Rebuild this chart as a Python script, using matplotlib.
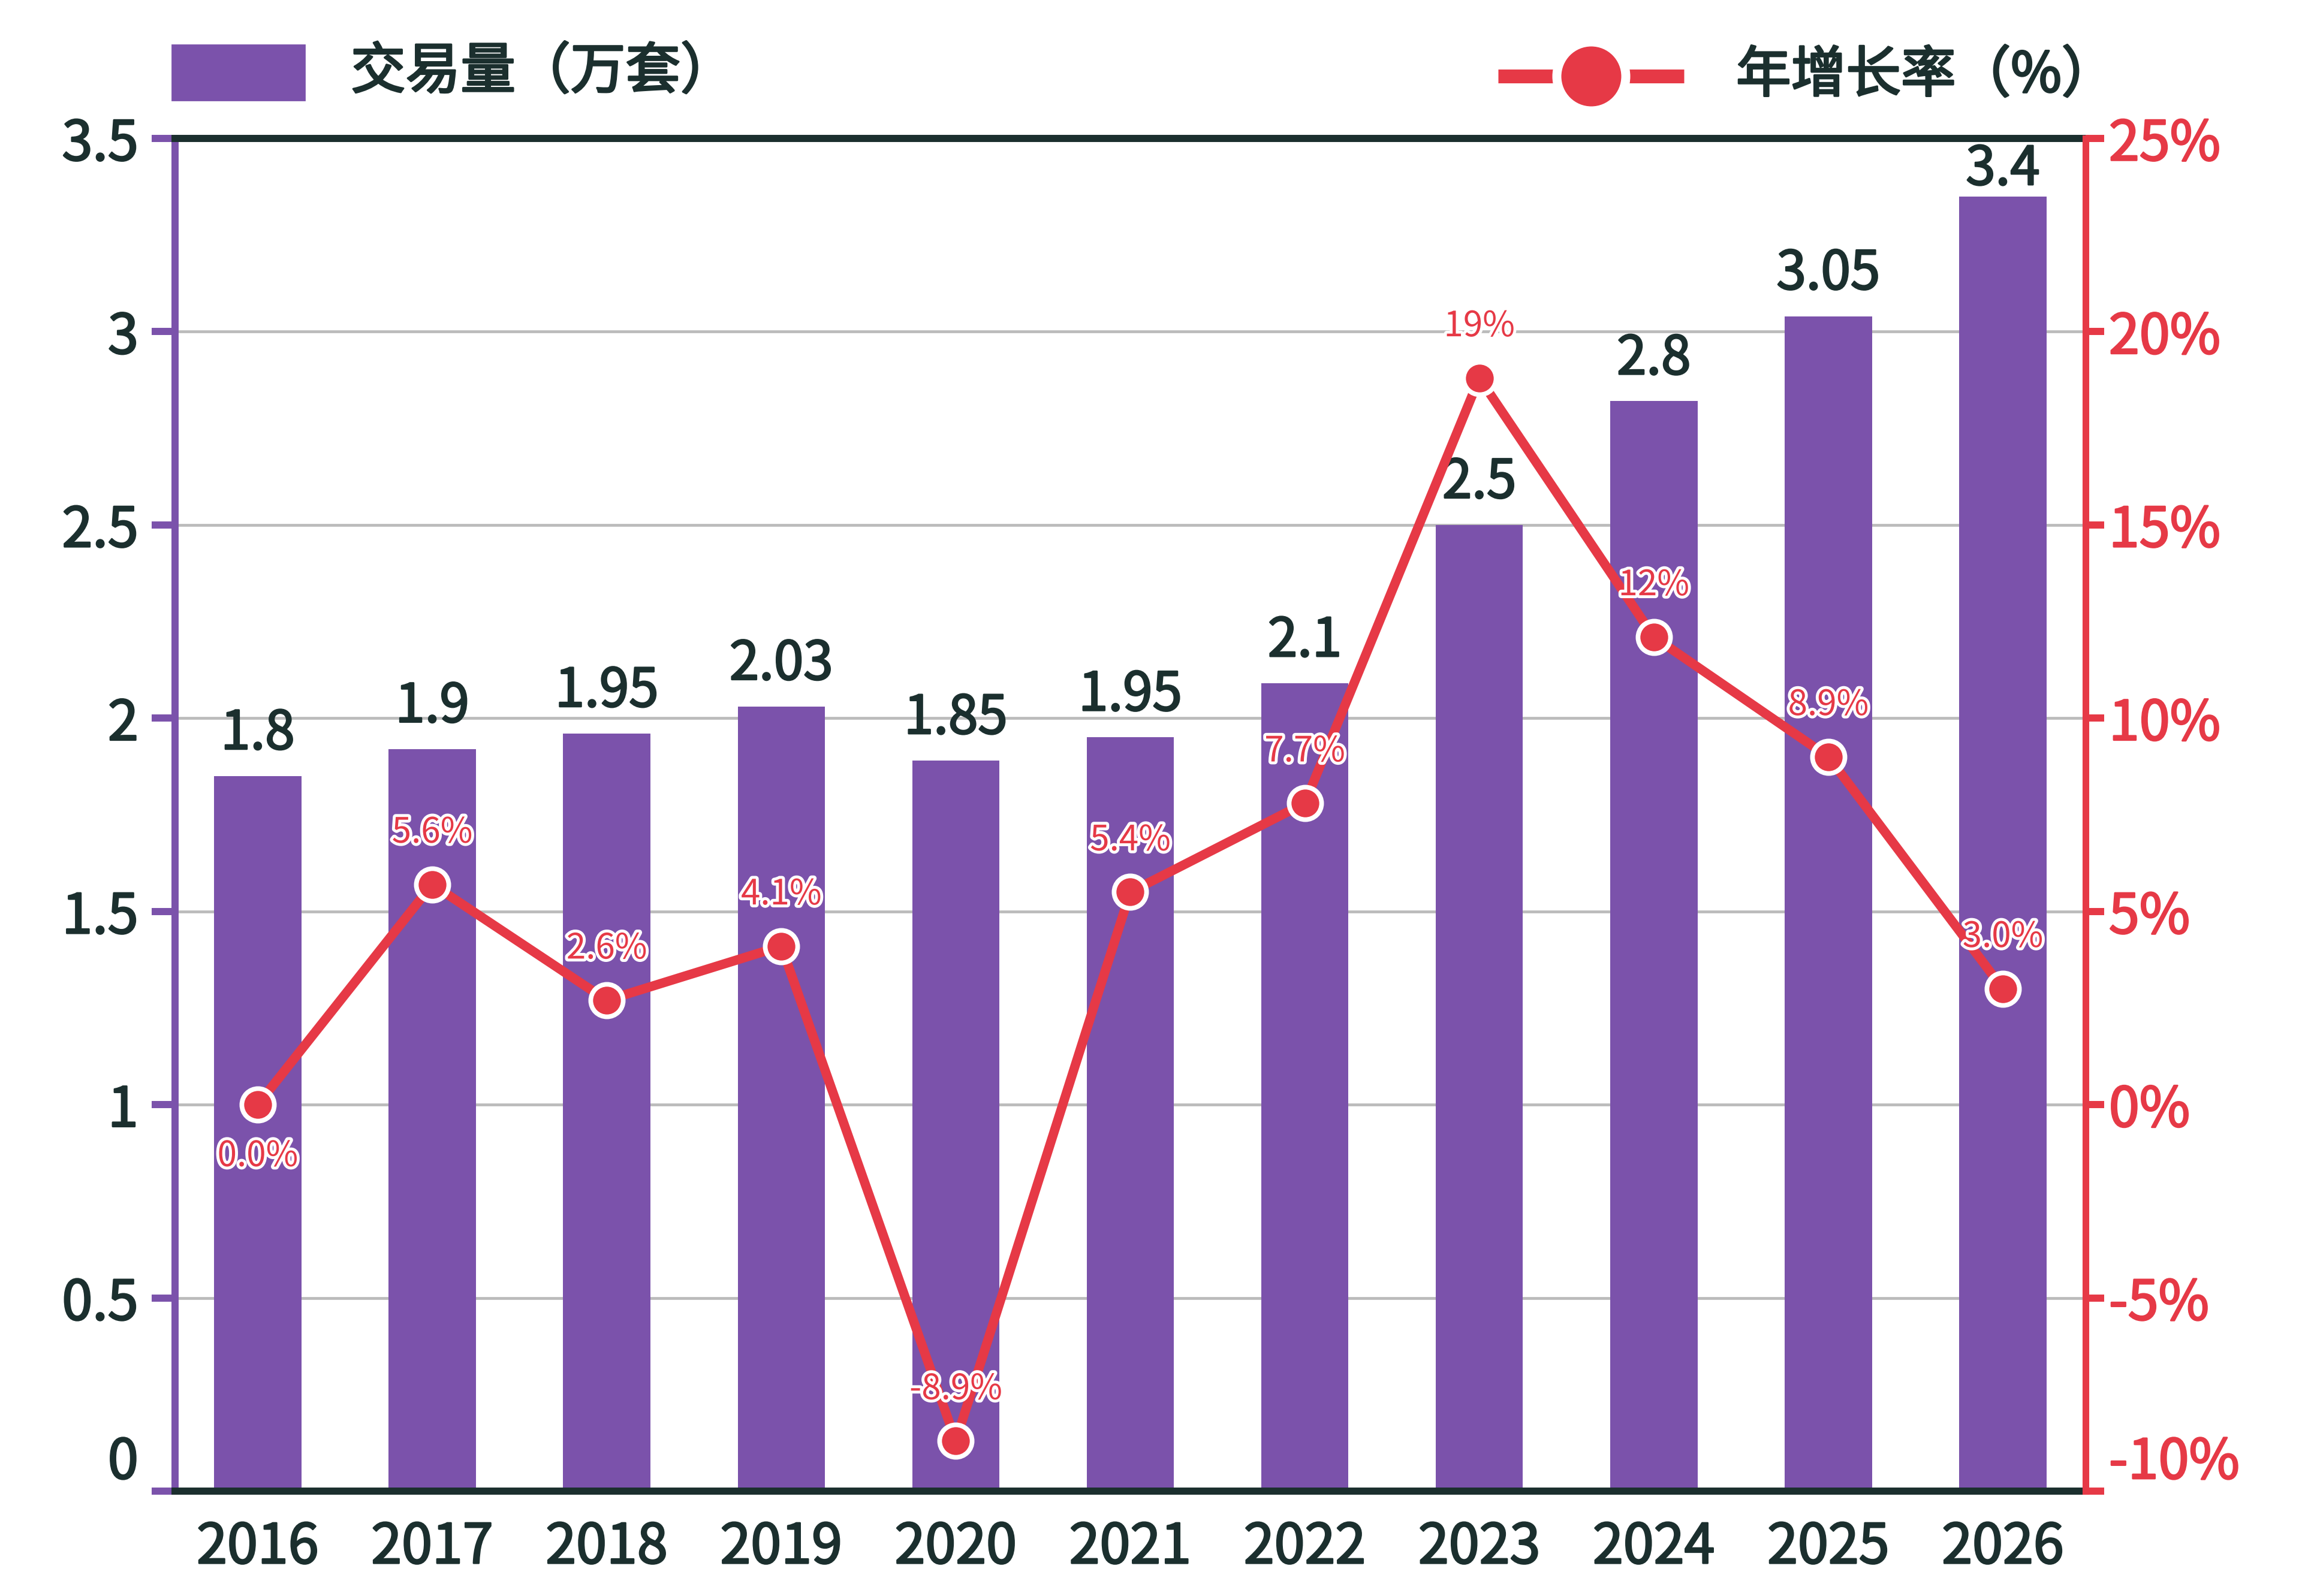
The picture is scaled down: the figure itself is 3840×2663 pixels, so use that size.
import matplotlib
matplotlib.use("Agg")
import matplotlib.pyplot as plt
import matplotlib.patheffects as pe
from matplotlib.patches import Rectangle
from matplotlib.lines import Line2D
import numpy as np

plt.rcParams['font.family'] = ['Noto Sans CJK SC', 'DejaVu Sans']

# ---- data ----
years = ["2016", "2017", "2018", "2019", "2020", "2021", "2022", "2023", "2024", "2025", "2026"]
volume = [1.85, 1.92, 1.96, 2.03, 1.89, 1.95, 2.09, 2.50, 2.82, 3.04, 3.35]
volume_labels = ["1.8", "1.9", "1.95", "2.03", "1.85", "1.95", "2.1", "2.5", "2.8", "3.05", "3.4"]
growth = [0.0, 5.7, 2.7, 4.1, -8.7, 5.5, 7.8, 18.8, 12.1, 9.0, 3.0]
growth_labels = ["0.0%", "5.6%", "2.6%", "4.1%", "-8.9%", "5.4%", "7.7%", "19%", "12%", "8.9%", "3.0%"]
left_ticks = [0, 0.5, 1, 1.5, 2, 2.5, 3, 3.5]
left_tick_labels = ["0", "0.5", "1", "1.5", "2", "2.5", "3", "3.5"]
right_ticks = [-10, -5, 0, 5, 10, 15, 20, 25]
right_tick_labels = ["-10%", "-5%", "0%", "5%", "10%", "15%", "20%", "25%"]
legend_bar = "交易量（万套）"
legend_line = "年增长率（%）"

PURPLE = "#7B52AB"
RED = "#E63946"
DARK = "#1B2F2E"
GRID = "#BBBBBB"


def heavy(color, w=1.0):
    return [pe.withStroke(linewidth=w, foreground=color)]


DPI = 200
fig = plt.figure(figsize=(3840 / DPI, 2663 / DPI), dpi=DPI)
ax = fig.add_axes([292 / 3840, 0.0657, (3479 - 292) / 3840, 0.9133 - 0.0657])

x = np.arange(len(years))
ax.bar(x, volume, width=0.5, color=PURPLE, zorder=2)
ax.set_xlim(-0.474, len(years) - 1 + 0.474)
ax.set_ylim(0, 3.5)
ax.set_yticks(left_ticks)
ax.set_yticklabels(left_tick_labels)
ax.set_xticks(x)
ax.set_xticklabels(years)
ax.set_axisbelow(True)
ax.yaxis.grid(True, color=GRID, linewidth=1.7, zorder=0)
ax.tick_params(axis='x', length=0, pad=17, labelsize=33, labelcolor=DARK)
ax.tick_params(axis='y', length=14, width=4.3, color=PURPLE, pad=8,
               labelsize=33, labelcolor=DARK)
for s in ("top", "bottom"):
    ax.spines[s].set_color(DARK)
    ax.spines[s].set_linewidth(4.3)
ax.spines["left"].set_color(PURPLE)
ax.spines["left"].set_linewidth(4.3)
ax.spines["right"].set_visible(False)
ax.get_yticklabels()[0].set_va('bottom')
for lab in ax.get_xticklabels() + ax.get_yticklabels():
    lab.set_path_effects(heavy(DARK))

# bar value labels
off = 45 / 643.0
top_room = 77 / 643.0
for xi, v, lab in zip(x, volume, volume_labels):
    yb = min(v + off, 3.5 - top_room)
    ax.text(xi, yb, lab, ha='center', va='baseline', fontsize=32, color=DARK,
            zorder=3, path_effects=heavy(DARK))

# growth line on twin axis
ax2 = ax.twinx()
ax2.set_ylim(-10, 25)
ax2.plot(x, growth, color=RED, linewidth=5.6, marker='o', markersize=19.5,
         markerfacecolor=RED, markeredgecolor='white', markeredgewidth=2.8,
         zorder=4)
ax2.set_yticks(right_ticks)
ax2.set_yticklabels(right_tick_labels)
ax2.tick_params(axis='y', length=11, width=4.3, color=RED, pad=3,
                labelsize=33, labelcolor=RED)
for s in ("top", "bottom", "left"):
    ax2.spines[s].set_visible(False)
ax2.spines["right"].set_color(RED)
ax2.spines["right"].set_linewidth(4.0)
ax2.get_yticklabels()[0].set_va('bottom')
for lab in ax2.get_yticklabels():
    lab.set_path_effects(heavy(RED))

for i, (xi, g, lab) in enumerate(zip(x, growth, growth_labels)):
    dy = -31 if i == 0 else 31
    ax2.annotate(lab, (xi, g), xytext=(0, dy), textcoords='offset points',
                 ha='center', va='center', fontsize=21, color=RED, zorder=5,
                 path_effects=[pe.withStroke(linewidth=3.5, foreground='white')])

# legend (manual)
fig.patches.append(Rectangle((287 / 3840, 1 - 167 / 2663), 221 / 3840, 92 / 2663,
                             transform=fig.transFigure, color=PURPLE))
fig.text(585 / 3840, 1 - 121 / 2663, legend_bar, ha='left', va='center',
         fontsize=33, color=DARK, path_effects=heavy(DARK, 1.2))
fig.lines.append(Line2D([2499 / 3840, 2809 / 3840], [1 - 127 / 2663, 1 - 127 / 2663],
                        transform=fig.transFigure, color=RED, linewidth=8.3,
                        solid_capstyle='butt'))
fig.lines.append(Line2D([2654 / 3840], [1 - 127 / 2663], transform=fig.transFigure,
                        marker='o', markersize=41.4, markerfacecolor=RED,
                        markeredgecolor='white', markeredgewidth=5.4, linestyle='none'))
fig.text(2896 / 3840, 1 - 127 / 2663, legend_line, ha='left', va='center',
         fontsize=33, color=DARK, path_effects=heavy(DARK, 1.2))

fig.savefig("out.png", dpi=DPI, facecolor='white')
